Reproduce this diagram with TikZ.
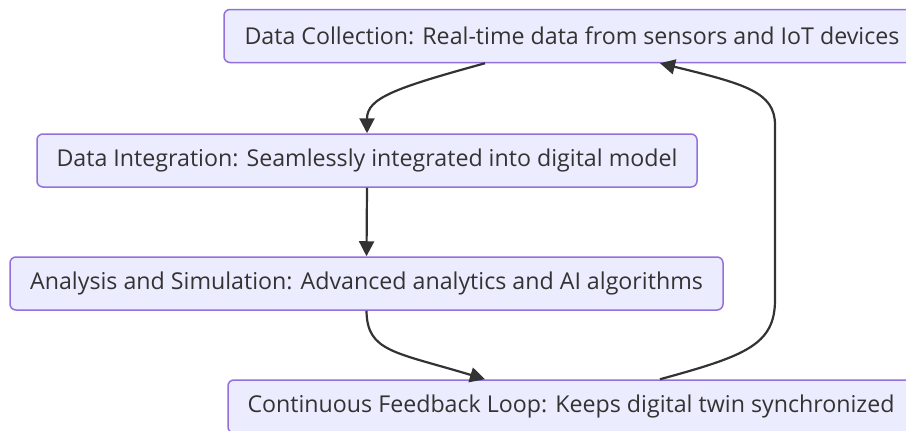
\documentclass[tikz,border=0pt]{standalone}
\usepackage{fontspec}
\setmainfont{Open Sans}
\usetikzlibrary{arrows.meta}
\definecolor{boxfill}{HTML}{ECECFF}
\definecolor{boxline}{HTML}{9370DB}
\definecolor{ink}{HTML}{333333}
\tikzset{
  box/.style={draw=boxline, fill=boxfill, line width=1.5pt, rounded corners=6pt,
    minimum height=53pt, inner xsep=0pt, text=ink, font=\fontsize{23.2}{26}\selectfont},
  flow/.style={draw=ink, line width=2.2pt, -{Triangle[length=15pt,width=15pt]}}
}
\begin{document}
\begin{tikzpicture}[x=1pt,y=-1pt]
\useasboundingbox (0,0) rectangle (906,431);
\fill[white] (0,0) rectangle (906,431);
\node[box, minimum width=696pt] (dc) at (572,36) {Data Collection: Real-time data from sensors and IoT devices};
\node[box, minimum width=660pt] (di) at (367,160.5) {Data Integration: Seamlessly integrated into digital model};
\node[box, minimum width=713pt] (as) at (366.5,283.5) {Analysis and Simulation: Advanced analytics and AI algorithms};
\node[box, minimum width=686pt] (fb) at (571,406.5) {Continuous Feedback Loop: Keeps digital twin synchronized};
\draw[flow] ([xshift=-87pt]dc.south) .. controls (395,88) and (367,98) .. (di.north);
\draw[flow] (di.south) -- (as.north);
\draw[flow] (as.south) .. controls (367,352) and (395,352) .. ([xshift=-86pt]fb.north);
\draw[flow] ([xshift=89pt]fb.north) .. controls (745,356) and (775,345) .. (775,300)
  -- (775,125) .. controls (775,92) and (745,84) .. ([xshift=88pt]dc.south);
\end{tikzpicture}
\end{document}
